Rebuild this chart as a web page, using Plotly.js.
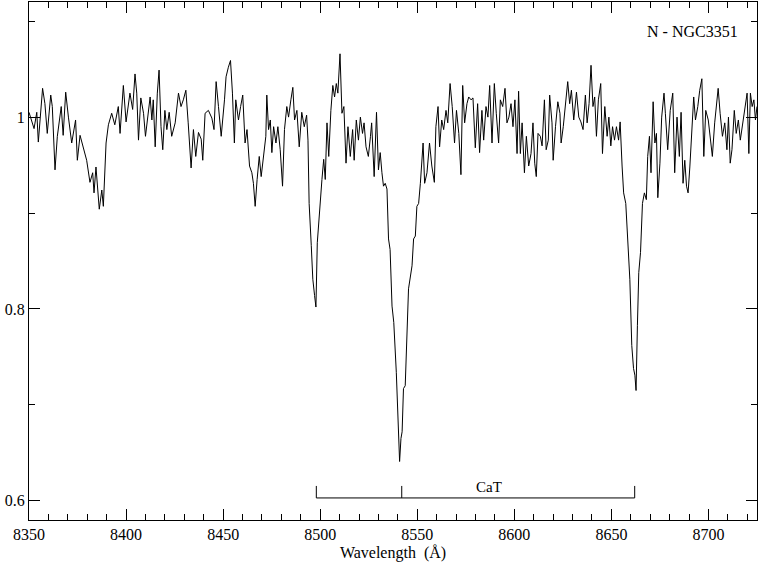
<!DOCTYPE html>
<html>
<head>
<meta charset="utf-8">
<script src="https://cdn.plot.ly/plotly-3.0.1.min.js"></script>
<style>
  html, body { margin: 0; padding: 0; background: #fff; }
  #chart { width: 759px; height: 567px; }
</style>
</head>
<body>
<div id="chart"></div>
<script>
// wavelength (Å) and normalised flux
const wave = [
  8350.0,8351.4,8352.6,8354.0,8354.8,8357.0,8358.2,8359.4,8361.2,8362.0,
  8363.4,8364.6,8365.6,8366.6,8367.6,8368.9,8370.3,8372.0,8374.0,8374.9,
  8376.3,8378.0,8379.7,8381.4,8382.8,8383.5,8384.5,8386.2,8387.5,8388.3,
  8389.7,8390.9,8392.6,8394.2,8396.0,8396.9,8398.6,8400.0,8401.2,8402.0,
  8403.4,8404.6,8405.5,8406.4,8407.6,8409.0,8410.0,8412.4,8413.3,8414.0,
  8415.0,8416.1,8417.0,8418.0,8418.9,8420.0,8421.0,8422.2,8423.5,8425.3,
  8427.0,8428.3,8429.5,8430.8,8432.0,8433.5,8434.7,8435.9,8437.3,8438.7,
  8439.5,8440.7,8442.4,8444.2,8445.3,8446.4,8447.6,8449.0,8450.7,8451.5,
  8452.7,8453.8,8454.8,8455.8,8456.5,8457.9,8459.0,8460.1,8461.3,8462.3,
  8463.6,8464.8,8465.6,8466.5,8467.5,8468.6,8469.6,8470.8,8472.0,8472.5,
  8473.4,8474.3,8475.1,8476.0,8477.2,8478.2,8479.4,8480.6,8481.6,8482.8,
  8483.7,8484.9,8485.9,8486.8,8488.0,8489.2,8490.5,8491.8,8493.0,8493.7,
  8494.3,8495.4,8496.2,8497.1,8497.8,8498.5,8499.5,8500.9,8501.8,8502.6,
  8503.5,8504.4,8505.5,8506.5,8507.4,8508.3,8509.1,8510.2,8511.2,8512.2,
  8513.3,8514.3,8515.5,8516.7,8517.5,8518.6,8519.7,8520.7,8521.8,8522.6,
  8523.6,8524.8,8525.9,8526.5,8527.8,8529.0,8530.0,8530.9,8531.8,8532.6,
  8533.5,8534.4,8535.2,8536.0,8537.0,8537.9,8539.2,8540.2,8540.9,8541.6,
  8542.2,8542.9,8543.8,8545.5,8547.3,8548.1,8549.0,8549.8,8550.7,8551.6,
  8553.0,8553.8,8555.0,8556.3,8557.5,8558.8,8559.6,8560.7,8561.5,8562.6,
  8563.6,8564.8,8565.7,8566.9,8568.0,8569.2,8570.2,8571.4,8572.5,8573.4,
  8574.4,8575.6,8576.5,8577.7,8578.7,8579.9,8581.1,8582.1,8583.3,8584.2,
  8585.4,8586.4,8587.3,8588.5,8589.7,8590.7,8591.9,8592.8,8594.0,8595.2,
  8596.2,8597.2,8598.3,8599.3,8600.3,8601.4,8602.2,8603.1,8604.0,8605.2,
  8606.2,8607.4,8608.6,8609.6,8610.5,8611.3,8612.2,8613.4,8614.3,8615.5,
  8616.4,8617.5,8618.2,8619.4,8620.0,8621.2,8622.4,8623.5,8624.1,8625.2,
  8626.3,8627.5,8628.5,8629.4,8630.6,8632.0,8633.2,8634.3,8635.4,8636.6,
  8637.5,8638.5,8639.5,8640.5,8641.4,8642.3,8643.3,8644.5,8645.4,8646.6,
  8647.8,8648.7,8649.7,8650.6,8651.6,8652.6,8653.7,8654.5,8655.5,8656.3,
  8657.4,8658.4,8659.5,8660.5,8661.4,8662.1,8662.7,8663.4,8664.1,8665.0,
  8666.0,8667.0,8668.0,8668.7,8669.6,8670.4,8671.5,8672.4,8673.2,8673.9,
  8675.0,8675.9,8677.1,8677.8,8679.0,8680.3,8681.6,8682.6,8683.8,8685.0,
  8685.9,8686.9,8687.8,8688.7,8689.5,8690.4,8691.6,8692.4,8693.3,8694.5,
  8695.5,8696.6,8697.6,8698.6,8699.9,8701.1,8702.0,8703.2,8704.3,8705.0,
  8706.0,8707.2,8708.4,8709.5,8710.3,8711.2,8712.1,8713.3,8714.3,8715.4,
  8716.4,8717.6,8718.8,8719.9,8720.8,8721.6,8722.5,8723.4,8724.2,8725.0
];
const flux = [
  1.005,0.997,0.988,1.005,0.974,1.030,1.014,0.983,1.023,1.011,
  0.945,0.980,0.994,1.011,0.981,1.026,1.000,0.973,0.997,0.955,
  0.981,0.968,0.955,0.932,0.942,0.921,0.948,0.904,0.924,0.907,
  0.973,0.992,1.004,0.992,1.011,0.983,1.033,0.995,1.011,1.025,
  1.008,1.045,1.025,0.976,1.020,1.004,0.980,1.021,0.997,1.018,
  0.969,1.025,1.049,0.990,0.966,1.007,0.987,1.005,0.980,0.994,
  1.025,1.011,1.018,1.028,0.994,0.947,0.987,0.959,0.984,0.977,
  0.955,1.004,1.007,0.999,0.987,1.037,1.011,0.980,1.018,1.042,
  1.052,1.059,1.025,0.973,1.018,0.997,1.011,1.023,0.973,0.987,
  0.949,0.942,0.931,0.907,0.935,0.959,0.938,0.959,0.980,1.023,
  0.987,0.997,0.963,0.990,0.973,0.990,0.966,0.928,0.987,1.011,
  1.000,1.018,1.031,0.997,1.007,0.969,1.005,0.990,1.002,0.976,
  0.910,0.866,0.831,0.814,0.802,0.869,0.900,0.935,0.956,0.935,
  0.994,0.959,1.007,1.033,1.021,1.035,1.025,1.066,1.004,1.011,
  0.952,0.990,0.959,0.987,0.955,0.997,0.976,1.000,0.983,0.994,
  0.969,0.959,0.980,0.994,0.938,1.005,0.945,0.963,0.942,0.928,
  0.931,0.925,0.873,0.862,0.803,0.786,0.734,0.665,0.641,0.665,
  0.672,0.717,0.720,0.821,0.845,0.873,0.876,0.907,0.910,0.931,
  0.973,0.931,0.942,0.973,0.949,0.932,0.990,1.011,0.969,0.997,
  0.987,1.007,0.994,1.035,1.011,0.973,1.007,0.983,0.940,1.033,
  0.994,1.014,1.021,1.018,1.020,0.968,1.014,0.963,1.007,0.976,
  1.011,1.000,1.033,0.973,1.035,1.004,0.973,1.018,1.011,1.030,
  0.994,1.000,1.014,0.990,1.018,0.962,1.027,0.962,0.994,0.942,
  0.980,0.949,0.962,0.994,0.952,0.938,0.983,0.980,0.970,1.018,
  0.966,0.976,1.023,0.994,0.955,0.990,1.016,1.004,0.973,0.990,
  1.011,1.037,1.014,1.028,0.997,1.026,1.000,0.995,0.987,1.023,
  0.994,1.014,1.054,1.011,1.021,0.980,1.018,1.035,0.962,1.011,
  0.980,1.000,0.970,0.990,0.976,0.990,0.976,0.995,0.949,0.921,
  0.910,0.866,0.831,0.762,0.738,0.731,0.715,0.783,0.838,0.859,
  0.910,0.921,0.914,0.959,0.980,0.942,1.016,0.973,0.983,0.916,
  0.952,1.000,1.025,1.004,0.966,1.007,1.025,0.942,1.000,0.959,
  1.005,0.931,0.955,0.928,0.921,0.948,0.987,1.021,0.997,1.011,
  1.028,1.040,0.959,1.007,0.997,0.976,0.959,0.994,1.018,1.030,
  1.004,0.980,0.994,0.966,1.000,0.952,0.966,1.007,0.983,0.997,
  0.976,0.994,1.011,1.025,0.962,1.025,1.011,1.018,0.997,1.011
];

// Ca II triplet marker
const catLines = [8498, 8542, 8662];
const catBase = 0.603;
const catTop = 0.6155;
const catLabel = 'CaT';
const catLabelX = 8587;

const bx = [catLines[0], catLines[catLines.length - 1], null];
const by = [catBase, catBase, null];
catLines.forEach(l => { bx.push(l, l, null); by.push(catBase, catTop, null); });

const serif = 'Liberation Serif';
const axisBase = {
  showgrid: false, zeroline: false,
  showline: true, linecolor: '#000', linewidth: 1, mirror: 'allticks',
  ticks: 'inside', ticklen: 11, tickwidth: 1, tickcolor: '#000',
  tickfont: { family: serif, size: 16, color: '#000' },
};

Plotly.newPlot('chart', [
  {
    x: wave, y: flux, type: 'scatter', mode: 'lines',
    line: { color: '#000', width: 1 }, hoverinfo: 'skip',
  },
  {
    x: bx, y: by, type: 'scatter', mode: 'lines',
    line: { color: '#000', width: 1 }, hoverinfo: 'skip',
  },
], {
  width: 759, height: 567,
  margin: { l: 29, r: 2, t: 2, b: 47 },
  paper_bgcolor: '#fff', plot_bgcolor: '#fff',
  showlegend: false,
  font: { family: serif, color: '#000' },
  xaxis: {
    ...axisBase,
    range: [8350, 8725],
    tick0: 8350, dtick: 50,
    minor: { dtick: 10, ticklen: 6, tickcolor: '#000', ticks: 'inside' },
    title: { text: 'Wavelength\u00a0 (Å)', font: { family: serif, size: 16, color: '#000' }, standoff: 4 },
  },
  yaxis: {
    ...axisBase,
    range: [0.58, 1.12],
    tick0: 0.6, dtick: 0.2,
    minor: { dtick: 0.1, ticklen: 6, tickcolor: '#000', ticks: 'inside' },
  },
  annotations: [
    {
      text: 'N - NGC3351', xref: 'paper', yref: 'paper',
      x: 0.977, y: 0.943, xanchor: 'right', yanchor: 'middle',
      showarrow: false, font: { family: serif, size: 16, color: '#000' },
    },
    {
      text: catLabel, x: catLabelX, y: 0.6145, xref: 'x', yref: 'y',
      xanchor: 'center', yanchor: 'middle',
      showarrow: false, font: { family: serif, size: 15, color: '#000' },
    },
  ],
}, { displayModeBar: false, staticPlot: true });
</script>
</body>
</html>
